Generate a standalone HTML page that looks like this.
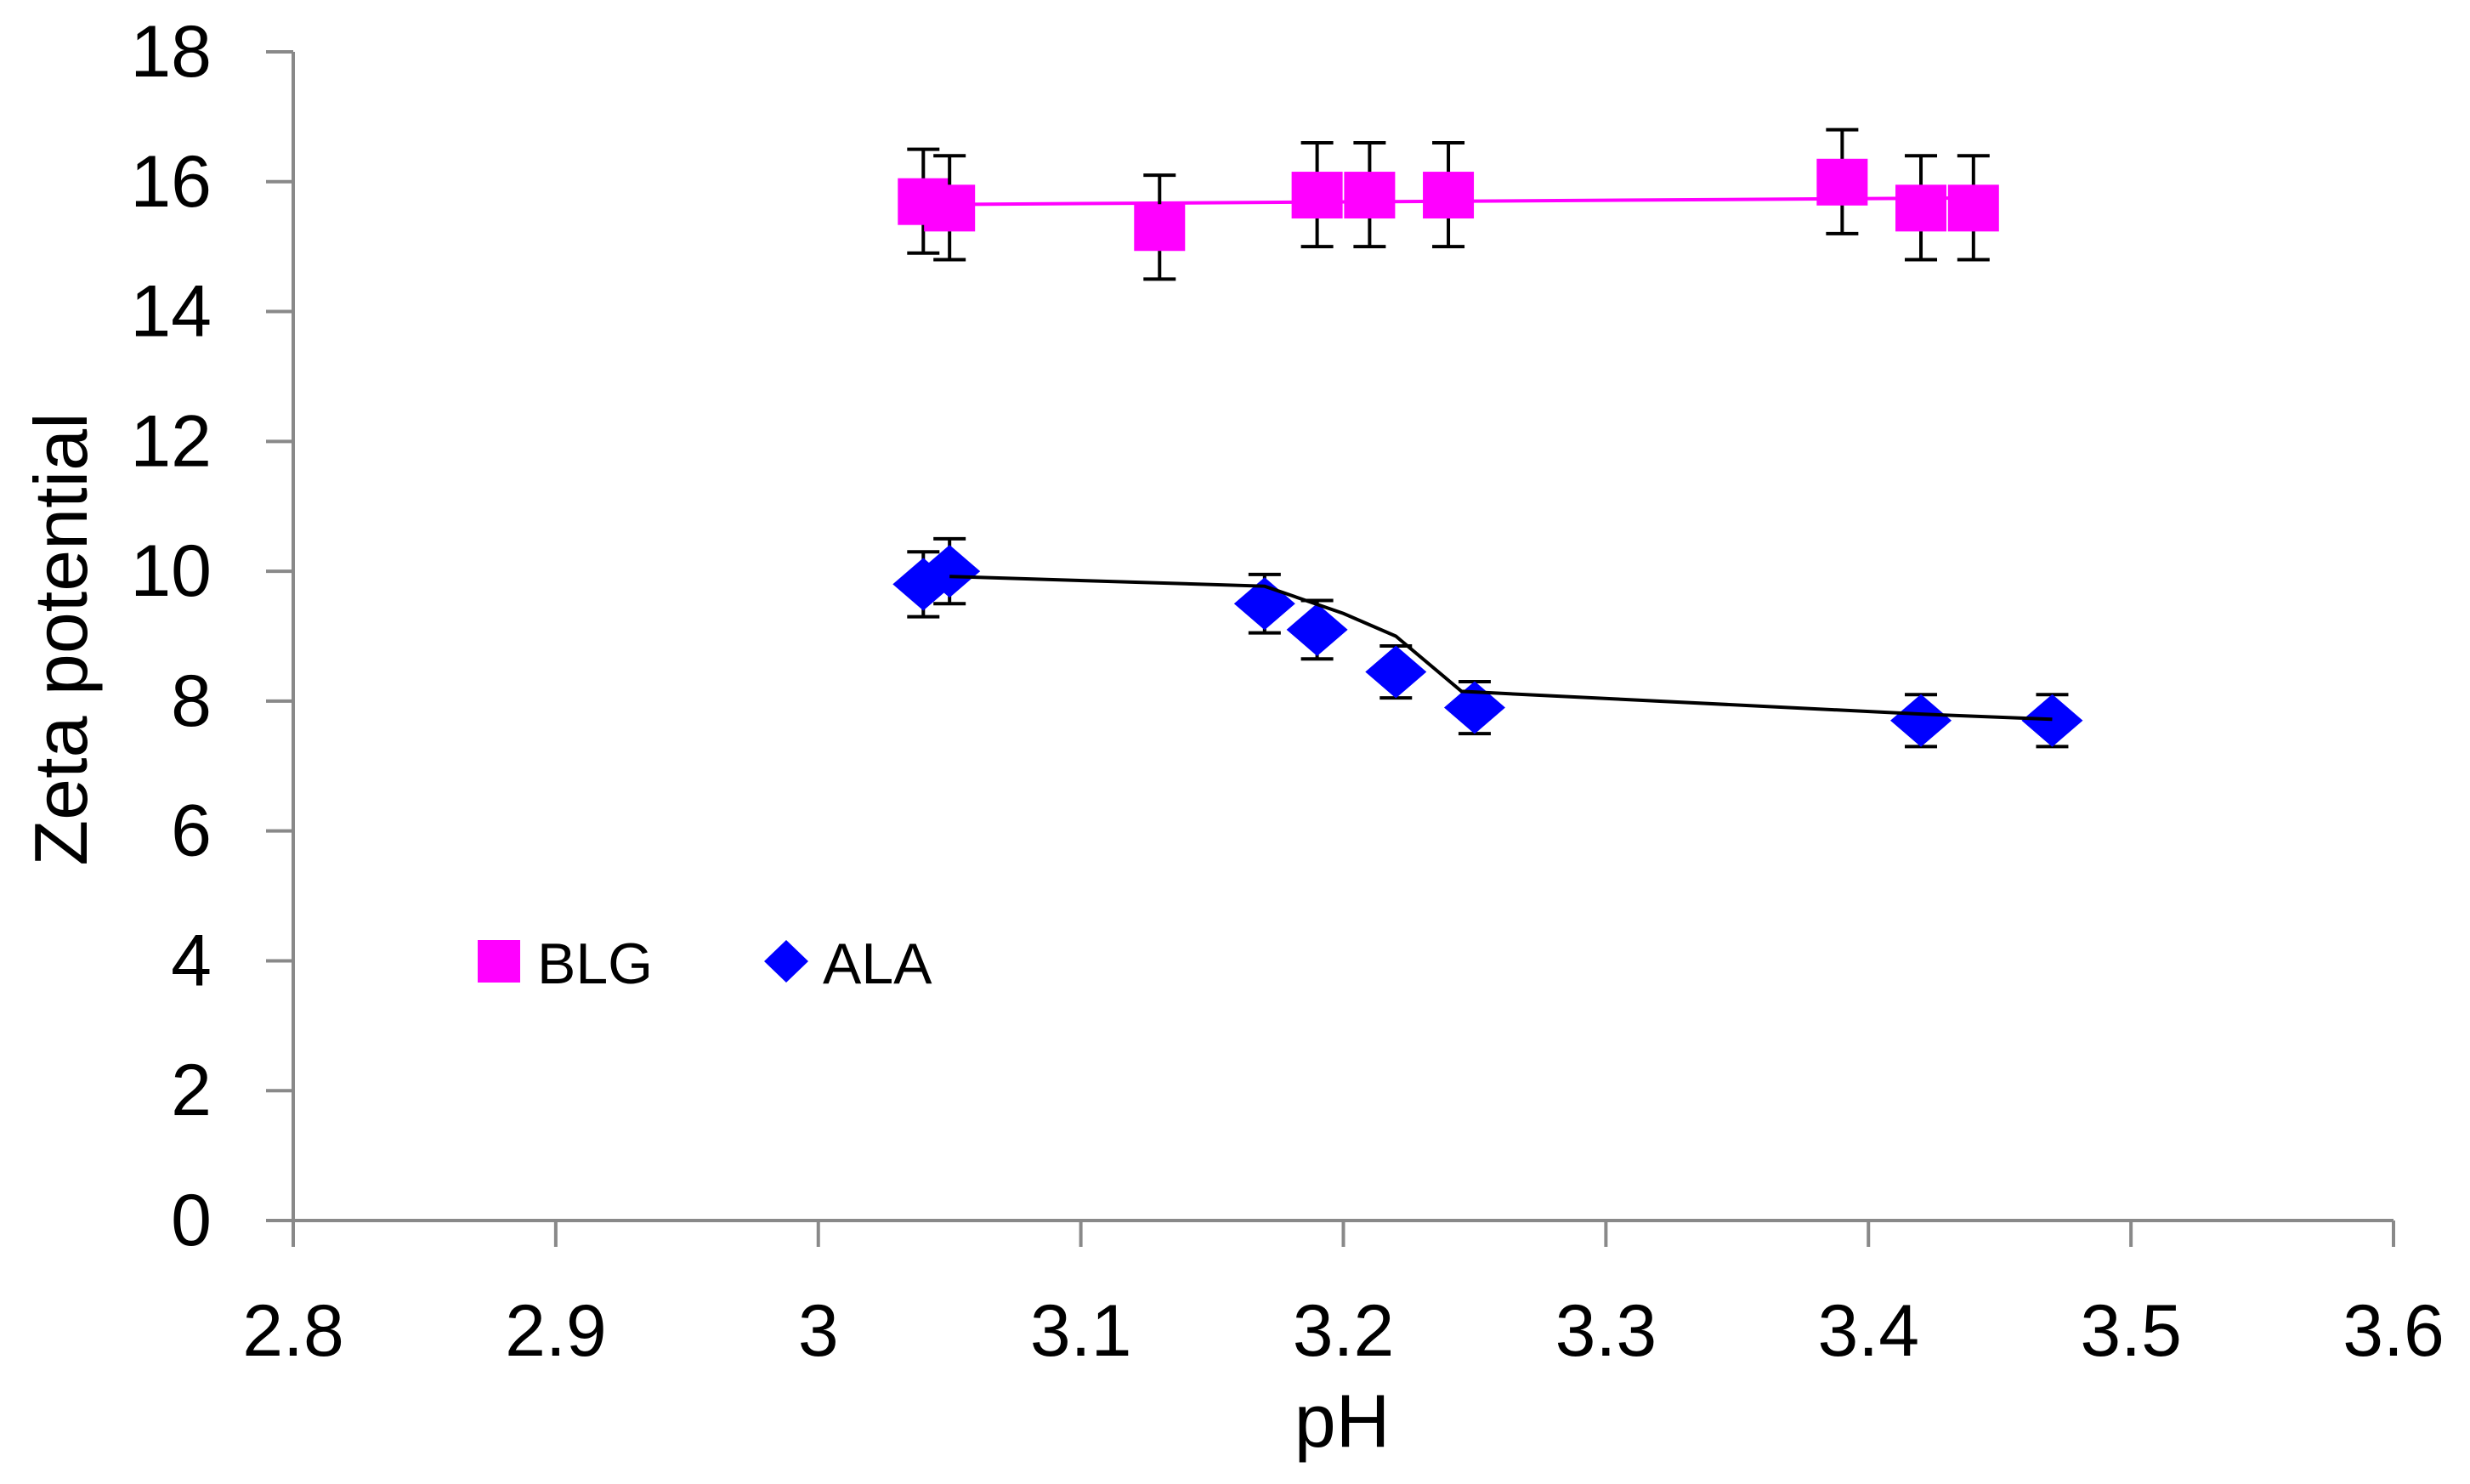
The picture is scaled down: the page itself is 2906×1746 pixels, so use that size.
<!DOCTYPE html>
<html><head><meta charset="utf-8"><style>
html,body{margin:0;padding:0;background:#fff;}
svg{display:block;font-family:"Liberation Sans",sans-serif;}
</style></head><body>
<svg id="chart" width="2906" height="1746" viewBox="0 0 2906 1746">
<g id="axes"></g><g id="series"></g>
<g>
<rect x="562" y="1106" width="50" height="50" fill="#ff00ff"/>
<text x="632" y="1157" font-size="68" fill="#000">BLG</text>
<polygon points="925,1106 951,1131 925,1156 899,1131" fill="#0000ff"/>
<text x="968" y="1157" font-size="68" fill="#000">ALA</text>
</g>
<text x="1579" y="1702" font-size="88" text-anchor="middle">pH</text>
<text transform="translate(102,752) rotate(-90)" font-size="88" text-anchor="middle">Zeta potential</text>
</svg>
<script>
const xTicks=[2.8,2.9,3,3.1,3.2,3.3,3.4,3.5,3.6];
const xTickLabels=["2.8","2.9","3","3.1","3.2","3.3","3.4","3.5","3.6"];
const yTicks=[0,2,4,6,8,10,12,14,16,18];
const blgPH=[3.04,3.05,3.13,3.19,3.21,3.24,3.39,3.42,3.44];
const blgZeta=[15.7,15.6,15.3,15.8,15.8,15.8,16.0,15.6,15.6];
const blgErr=[0.8,0.8,0.8,0.8,0.8,0.8,0.8,0.8,0.8];
const blgFitPH=[3.05,3.44];
const blgFitZeta=[15.65,15.75];
const alaPH=[3.04,3.05,3.17,3.19,3.22,3.25,3.42,3.47];
const alaZeta=[9.8,10.0,9.5,9.1,8.45,7.9,7.7,7.7];
const alaErr=[0.5,0.5,0.45,0.45,0.4,0.4,0.4,0.4];
const alaFitPH=[3.05,3.17,3.2,3.22,3.245,3.42,3.47];
const alaFitZeta=[9.92,9.77,9.35,9.0,8.15,7.8,7.72];

const NS="http://www.w3.org/2000/svg";
const X0=345,X1=2816,Y0=1436,Y1=61;
const xS=v=>X0+(v-2.8)/(3.6-2.8)*(X1-X0);
const yS=v=>Y0-(v-0)/(18-0)*(Y0-Y1);
function mk(parent,tag,attrs){const e=document.createElementNS(NS,tag);for(const k in attrs)e.setAttribute(k,attrs[k]);parent.appendChild(e);return e;}
const axes=document.getElementById('axes'),ser=document.getElementById('series');
let a=mk(axes,'line',{x1:X0,y1:Y0,x2:X1,y2:Y0,stroke:'#898989','stroke-width':4});


a=mk(axes,'line',{x1:X0,y1:Y0+2,x2:X0,y2:Y1,stroke:'#898989','stroke-width':4});


xTicks.forEach((v,i)=>{
 const t=mk(axes,'line',{x1:xS(v),y1:Y0,x2:xS(v),y2:Y0+31,stroke:'#898989','stroke-width':4});
 
 
 const l=mk(axes,'text',{x:xS(v),y:1595,'font-size':86,'text-anchor':'middle'});l.textContent=xTickLabels[i];
 
 
});
yTicks.forEach(v=>{
 const t=mk(axes,'line',{x1:X0-32,y1:yS(v),x2:X0,y2:yS(v),stroke:'#898989','stroke-width':4});
 
 
 const l=mk(axes,'text',{x:249,y:yS(v)+29,'font-size':86,'text-anchor':'end'});l.textContent=String(v);
 
 
});
function line(px,py,color,name){
 const p=mk(ser,'polyline',{points:px.map((v,i)=>xS(v)+','+yS(py[i])).join(' '),fill:'none',stroke:color,'stroke-width':4});
 
 
}
function err(x,y,e){
 const g=mk(ser,'g',{stroke:'#000','stroke-width':4});
 
 
 const cx=xS(x);
 mk(g,'line',{x1:cx,y1:yS(y-e),x2:cx,y2:yS(y+e)});
 mk(g,'line',{x1:cx-19,y1:yS(y-e),x2:cx+19,y2:yS(y-e)});
 mk(g,'line',{x1:cx-19,y1:yS(y+e),x2:cx+19,y2:yS(y+e)});
}
line(blgFitPH,blgFitZeta,'#ff00ff','blg-trend-line');
blgPH.forEach((x,i)=>{
 err(x,blgZeta[i],blgErr[i]);
 const r=mk(ser,'rect',{x:xS(x)-30,y:yS(blgZeta[i])-27,width:60,height:55,fill:'#ff00ff'});
 
 
});
alaPH.forEach((x,i)=>{
 err(x,alaZeta[i],alaErr[i]);
 const cx=xS(x),cy=yS(alaZeta[i]);
 const d=mk(ser,'polygon',{points:`${cx},${cy-31} ${cx+36},${cy} ${cx},${cy+31} ${cx-36},${cy}`,fill:'#0000ff'});
 
 
});
line(alaFitPH,alaFitZeta,'#000','ala-trend-line');
</script>
</body></html>
